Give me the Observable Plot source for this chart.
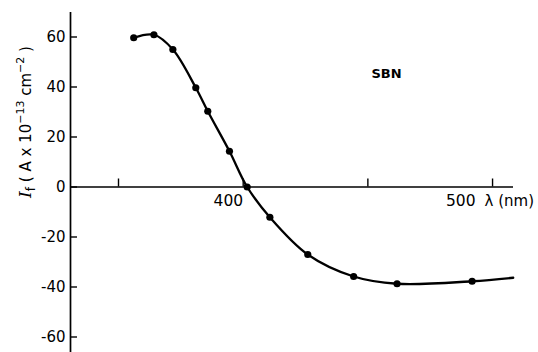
<!DOCTYPE html>
<html><head><meta charset="utf-8">
<script src="https://cdn.jsdelivr.net/npm/d3@7"></script>
<script src="https://cdn.jsdelivr.net/npm/@observablehq/plot@0.6"></script>
<style>body{margin:0;background:#fff} svg{display:block}</style>
</head><body><div id="chart"></div>
<script>
const wavelength = [356.1, 364.2, 371.8, 381.0, 385.8, 394.5, 401.6, 410.7, 425.9, 444.3, 461.7, 491.8];
const current = [59.7, 60.9, 55.0, 39.7, 30.3, 14.3, 0.0, -12.1, -27.0, -35.8, -38.7, -37.7];
const curveEndWavelength = 508.3;
const curveEndCurrent = -36.3;
const xTicks = [350, 400, 450, 500];
const xTickLabels = ["400", "500"];
const yTicks = [-60, -40, -20, 0, 20, 40, 60];
const seriesLabel = "SBN";
const xUnitLabel = "λ (nm)";

const points = wavelength.map((w, i) => ({w, c: current[i]}));
const curvePts = [...points, {w: curveEndWavelength, c: curveEndCurrent}];

const xDomain = [330.75, 508.4];
const yDomain = [-66.2, 69.8];
const W = 538, H = 352, mL = 70, mR = 25, mT = 12, mB = 0;
const pxPerX = (W - mL - mR) / (xDomain[1] - xDomain[0]);
const pxPerY = (H - mT - mB) / (yDomain[1] - yDomain[0]);
const font = "'DejaVu Sans', Verdana, sans-serif";

const chart = Plot.plot({
  width: W, height: H,
  marginLeft: mL, marginRight: mR, marginTop: mT, marginBottom: mB,
  x: {domain: xDomain, axis: null},
  y: {domain: yDomain, axis: null},
  style: {fontFamily: font, fontSize: "15px", background: "#fff", color: "#000"},
  marks: [
    Plot.ruleX([xDomain[0]], {stroke: "#000", strokeWidth: 1.7}),
    Plot.ruleY([0], {x1: xDomain[0], x2: xDomain[1], stroke: "#000", strokeWidth: 1.4}),
    Plot.ruleY(yTicks, {x1: xDomain[0], x2: xDomain[0] + 7 / pxPerX, stroke: "#000", strokeWidth: 1.4}),
    Plot.ruleX(xTicks, {y1: 0, y2: 8 / pxPerY, stroke: "#000", strokeWidth: 1.4}),
    Plot.text(yTicks, {x: xDomain[0], y: d => d, text: d => String(d), textAnchor: "end", dx: -5, fontSize: 15}),
    Plot.text([xTicks[1]], {x: d => d, y: 0, text: () => xTickLabels[0], textAnchor: "end", dx: 0, dy: 14, fontSize: 15.5}),
    Plot.text([xTicks[3]], {x: d => d, y: 0, text: () => xTickLabels[1], textAnchor: "end", dx: -17, dy: 14, fontSize: 15.5}),
    Plot.text([xTicks[3]], {x: d => d, y: 0, text: () => xUnitLabel, textAnchor: "start", dx: -8, dy: 14, fontSize: 15}),
    Plot.text([{w: 457.5, c: 45.4}], {x: "w", y: "c", text: () => seriesLabel, fontSize: 13, fontWeight: "bold"}),
    Plot.line(curvePts, {x: "w", y: "c", curve: "catmull-rom", stroke: "#000", strokeWidth: 2.3}),
    Plot.dot(points, {x: "w", y: "c", r: 3.6, fill: "#000", stroke: "none"})
  ]
});
document.getElementById("chart").appendChild(chart);

// y-axis title with subscript/superscripts
const svg = d3.select(chart);
const t = svg.append("text")
  .attr("transform", "translate(31,122) rotate(-90)")
  .attr("text-anchor", "middle")
  .attr("font-family", font)
  .attr("font-size", 15)
  .attr("fill", "#000");
t.append("tspan").attr("font-family", "'DejaVu Serif', serif").attr("font-style", "italic").attr("font-size", 17).text("I");
t.append("tspan").attr("font-size", 12).attr("dy", 4).text("f");
t.append("tspan").attr("dy", -4).text(" ( A x 10");
t.append("tspan").attr("font-size", 11).attr("dy", -7).text("−13");
t.append("tspan").attr("dy", 7).text(" cm");
t.append("tspan").attr("font-size", 11).attr("dy", -7).text("−2");
t.append("tspan").attr("dy", 7).text(" )");
</script>
</body></html>
